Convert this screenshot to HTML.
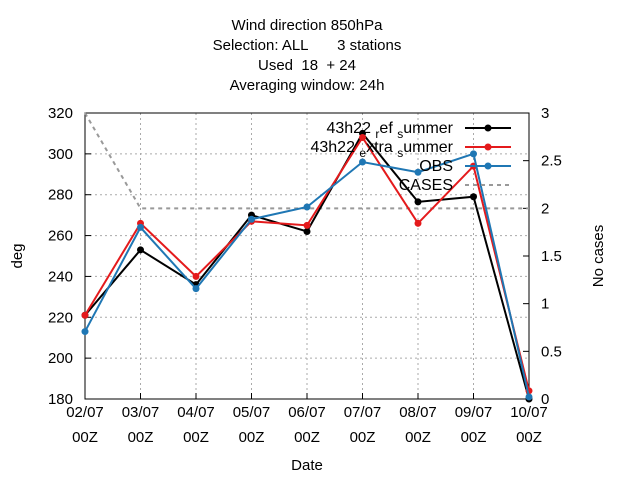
<!DOCTYPE html>
<html><head><meta charset="utf-8"><style>
body{margin:0;background:#fff}
svg{font-family:"Liberation Sans",sans-serif;font-size:15px}
</style></head><body>
<svg id="c" width="640" height="480">
<g text-anchor="middle" font-size="15">
<text x="307" y="30">Wind direction 850hPa</text>
<text x="307" y="50" xml:space="preserve">Selection: ALL       3 stations</text>
<text x="307" y="70" xml:space="preserve">Used  18  + 24</text>
<text x="307" y="90">Averaging window: 24h</text>
</g>
<g id="grid"></g><g id="axes"></g><g id="series"></g><g id="legend"></g>
<text x="307" y="470" text-anchor="middle">Date</text>
<text transform="translate(22,256) rotate(-90)" text-anchor="middle">deg</text>
<text transform="translate(603,256) rotate(-90)" text-anchor="middle">No cases</text>
</svg>
<script>
const categories=["02/07","03/07","04/07","05/07","06/07","07/07","08/07","09/07","10/07"];
const refSummer=[221,253,236,270,262,310,276.5,279,180];
const extraSummer=[221,266,240,267,265,308,266,294,184];
const obs=[213,264,234,268,274,296,291,300,181];
const cases=[3,2,2,2,2,2,2,2,2];
const yTicks=[180,200,220,240,260,280,300,320];
const y2Ticks=[0,0.5,1,1.5,2,2.5,3];
const L=85,R=529,T=113,B=399;
const NS="http://www.w3.org/2000/svg";
const xs=i=>L+(R-L)*i/(categories.length-1);
const ys=v=>B-(v-180)/140*(B-T);
const y2=v=>B-v/3*(B-T);
function mk(tag,attrs,parent,text){const e=document.createElementNS(NS,tag);for(const k in attrs)e.setAttribute(k,attrs[k]);if(text!==undefined)e.textContent=text;parent.appendChild(e);return e;}
const grid=document.getElementById('grid'),axes=document.getElementById('axes'),ser=document.getElementById('series'),leg=document.getElementById('legend');
yTicks.forEach(v=>{
 if(v>180&&v<320){const g=mk('line',{x1:L,x2:R,y1:ys(v),y2:ys(v),stroke:'#aaa','stroke-dasharray':'2,3'},grid);
 
 }
 mk('line',{x1:L,x2:L+6,y1:ys(v),y2:ys(v),stroke:'#000'},axes);
 const t=mk('text',{x:L-12,y:ys(v)+5,'text-anchor':'end'},axes,v);
 
 
});
y2Ticks.forEach(v=>{
 mk('line',{x1:R-6,x2:R,y1:y2(v),y2:y2(v),stroke:'#000'},axes);
 const t=mk('text',{x:R+12,y:y2(v)+5},axes,v);
 
 
});
categories.forEach((c,i)=>{
 const x=xs(i);
 if(i>0&&i<categories.length-1){const g=mk('line',{x1:x,x2:x,y1:T,y2:B,stroke:'#aaa','stroke-dasharray':'2,3'},grid);
 
 }
 mk('line',{x1:x,x2:x,y1:B-6,y2:B,stroke:'#000'},axes);
 const t=mk('text',{x:x,y:B+18,'text-anchor':'middle'},axes,c);
 
 
 const t2=mk('text',{x:x,y:B+43,'text-anchor':'middle'},axes,'00Z');
 
 
});
const fr=mk('rect',{x:L,y:T,width:R-L,height:B-T,fill:'none',stroke:'#000'},axes);


const cp=mk('polyline',{points:cases.map((v,i)=>xs(i)+','+y2(v)).join(' '),fill:'none',stroke:'#999','stroke-width':2,'stroke-dasharray':'4,4'},ser);


const S=[[refSummer,'#000','ref-summer'],[extraSummer,'#e41a1c','extra-summer'],[obs,'#1f77b4','obs']];
S.forEach(([d,col,n])=>{
 const p=mk('polyline',{points:d.map((v,i)=>xs(i)+','+ys(v)).join(' '),fill:'none',stroke:col,'stroke-width':2},ser);
 
 
 d.forEach((v,i)=>{const c=mk('circle',{cx:xs(i),cy:ys(v),r:3.5,fill:col},ser);
 
 });
});
const LE=[[['43h22 ','r','ef ','s','ummer'],'#000',false,'ref'],[['43h22 ','e','xtra ','s','ummer'],'#e41a1c',false,'extra'],[['OBS'],'#1f77b4',false,'obs'],[['CASES'],'#999',true,'cases']];
LE.forEach(([parts,col,dash,n],k)=>{
 const y=128+k*19;
 const t=mk('text',{x:453,y:y+5,'text-anchor':'end','font-size':16},leg);
 parts.forEach((p,j)=>{
  const sub=parts.length>1&&(j===1||j===3);
  const a={};
  if(sub){a.dy=5;a['font-size']=12;}
  else if(j>1){a.dy=-5;}
  mk('tspan',a,t,p);
 });
 
 
 const a={x1:465,x2:511,y1:y,y2:y,stroke:col,'stroke-width':2};
 if(dash)a['stroke-dasharray']='4,4';
 const l=mk('line',a,leg);
 
 
 if(!dash){const c=mk('circle',{cx:488,cy:y,r:3.5,fill:col},leg);
 
 }
});
</script>
</body></html>
